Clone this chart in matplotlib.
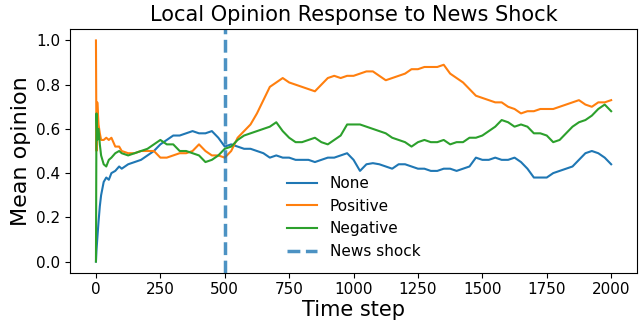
import matplotlib
matplotlib.use("Agg")
import matplotlib.pyplot as plt

# Time grid shared by all three scenarios
steps = [0, 2, 5, 10, 15, 20, 30, 40, 50, 60, 75, 90] + list(range(100, 2001, 25))

# Mean opinion per scenario
none_vals = [
    0.00, 0.05, 0.10, 0.18, 0.25, 0.30, 0.36, 0.38, 0.37, 0.40, 0.41, 0.43,
    0.42, 0.44, 0.45, 0.46, 0.48, 0.50, 0.53, 0.55, 0.57, 0.57, 0.58, 0.59,
    0.58, 0.58, 0.59, 0.56, 0.52, 0.53, 0.52, 0.51, 0.51, 0.50, 0.49, 0.47,
    0.48, 0.47, 0.47, 0.46, 0.46, 0.46, 0.45, 0.46, 0.47, 0.47, 0.48, 0.49,
    0.46, 0.41, 0.44, 0.445, 0.44, 0.43, 0.42, 0.44, 0.44, 0.43, 0.42, 0.42,
    0.41, 0.41, 0.42, 0.42, 0.41, 0.42, 0.43, 0.47, 0.46, 0.46, 0.47, 0.46,
    0.46, 0.47, 0.45, 0.42, 0.38, 0.38, 0.38, 0.40, 0.41, 0.42, 0.43, 0.46,
    0.49, 0.50, 0.49, 0.47, 0.44,
]
positive_vals = [
    1.00, 0.50, 0.72, 0.62, 0.58, 0.55, 0.55, 0.56, 0.55, 0.56, 0.52, 0.52,
    0.50, 0.49, 0.49, 0.50, 0.50, 0.50, 0.47, 0.47, 0.48, 0.49, 0.49, 0.50,
    0.53, 0.50, 0.48, 0.48, 0.47, 0.50, 0.56, 0.59, 0.62, 0.67, 0.73, 0.79,
    0.81, 0.83, 0.81, 0.80, 0.79, 0.78, 0.77, 0.80, 0.83, 0.84, 0.83, 0.84,
    0.84, 0.85, 0.86, 0.86, 0.84, 0.82, 0.83, 0.84, 0.85, 0.87, 0.87, 0.88,
    0.88, 0.88, 0.89, 0.85, 0.83, 0.81, 0.78, 0.75, 0.74, 0.73, 0.72, 0.72,
    0.70, 0.69, 0.67, 0.68, 0.68, 0.69, 0.69, 0.69, 0.70, 0.71, 0.72, 0.73,
    0.71, 0.70, 0.72, 0.72, 0.73,
]
negative_vals = [
    0.00, 0.67, 0.55, 0.60, 0.53, 0.48, 0.44, 0.43, 0.46, 0.47, 0.49, 0.50,
    0.49, 0.48, 0.49, 0.50, 0.51, 0.53, 0.55, 0.53, 0.53, 0.50, 0.50, 0.49,
    0.48, 0.45, 0.46, 0.48, 0.51, 0.52, 0.55, 0.57, 0.58, 0.59, 0.60, 0.61,
    0.63, 0.59, 0.56, 0.54, 0.54, 0.55, 0.56, 0.54, 0.53, 0.55, 0.57, 0.62,
    0.62, 0.62, 0.61, 0.60, 0.59, 0.58, 0.56, 0.55, 0.54, 0.52, 0.54, 0.55,
    0.54, 0.54, 0.55, 0.53, 0.54, 0.54, 0.56, 0.56, 0.57, 0.59, 0.61, 0.64,
    0.63, 0.61, 0.62, 0.61, 0.58, 0.58, 0.57, 0.54, 0.55, 0.58, 0.61, 0.63,
    0.64, 0.66, 0.69, 0.71, 0.68,
]
shock_step = 500

fig = plt.figure(figsize=(6.44, 3.23), dpi=100)
ax = fig.add_axes([0.109, 0.156, 0.880, 0.753])

ax.plot(steps, none_vals, color="#1f77b4", lw=1.5, label="None")
ax.plot(steps, positive_vals, color="#ff7f0e", lw=1.5, label="Positive")
ax.plot(steps, negative_vals, color="#2ca02c", lw=1.5, label="Negative")
ax.axvline(shock_step, color="#1f77b4", alpha=0.8, ls="--", lw=2.5, label="News shock")

ax.set_title("Local Opinion Response to News Shock", fontsize=15)
ax.set_xlabel("Time step", fontsize=15, labelpad=2)
ax.set_ylabel("Mean opinion", fontsize=16)
ax.tick_params(labelsize=11)
ax.set_xticks([0, 250, 500, 750, 1000, 1250, 1500, 1750, 2000])
ax.legend(loc="lower center", frameon=False, fontsize=11)

fig.savefig("out.png", dpi=100)
